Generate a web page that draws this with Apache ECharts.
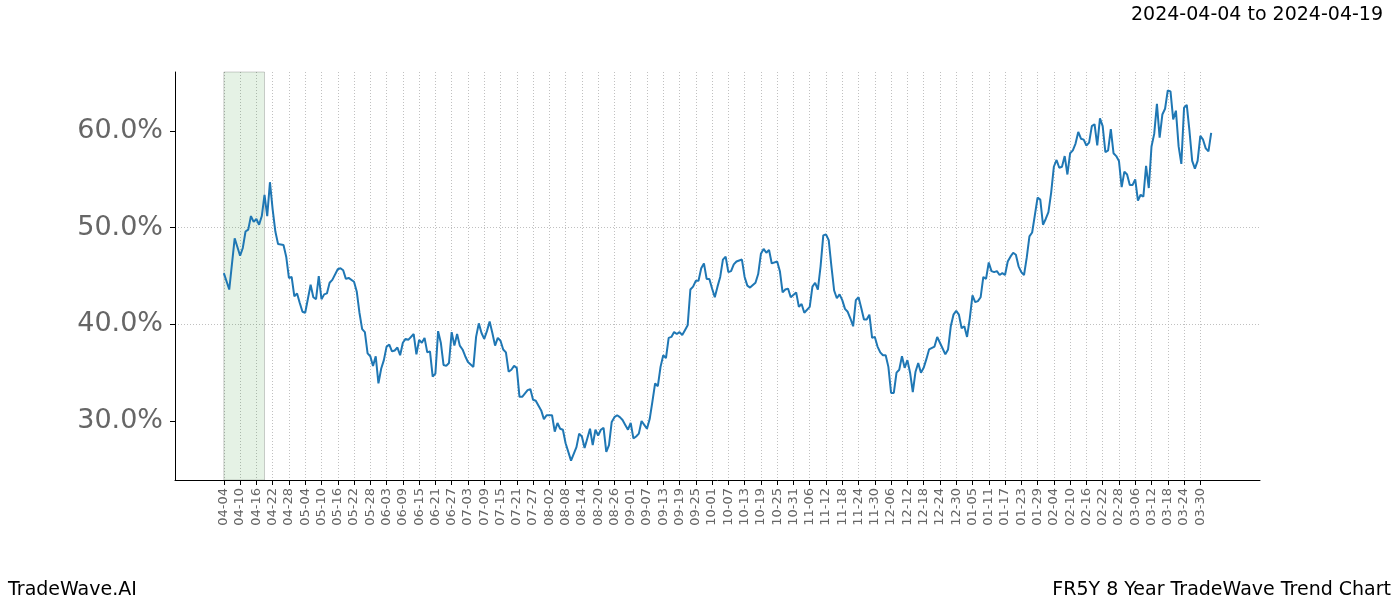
<!DOCTYPE html>
<html>
<head>
<meta charset="utf-8">
<script src="https://cdn.jsdelivr.net/npm/echarts@6/dist/echarts.min.js"></script>
<style>html,body{margin:0;padding:0;background:#fff}#c{width:1400px;height:600px}</style>
</head>
<body>
<div id="c"></div>
<script>
// Axis window: calendar days, offsets relative to 2024-04-04
const axisStart = '2024-03-17';   // offset -18
const axisDays = 401;             // through offset +382
const tickStep = 6;               // label every 6 days, offsets 0..360
const tickFirst = 0, tickLast = 360;
const highlightStart = 0, highlightEnd = 15;  // 2024-04-04 .. 2024-04-19
const yTicks = [30, 40, 50, 60];

// Series: day offset since 2024-04-04, value in %
const dayOffsets = [0,2,4,6,7,8,9,10,11,12,13,14,15,16,17,18,19,20,22,23,24,25,26,27,28,29,30,32,33,34,35,36,37,38,39,40,42,43,44,45,46,48,49,50,51,52,53,54,55,56,57,58,59,60,61,62,63,64,65,66,67,68,70,71,72,73,74,75,76,77,78,79,80,81,82,83,84,85,86,87,88,89,90,92,93,94,95,96,97,98,99,100,101,102,103,104,105,106,107,108,109,110,112,113,114,115,117,118,119,121,122,123,124,125,126,128,130,131,132,133,134,135,136,137,138,139,140,141,142,143,144,145,146,147,148,149,150,151,152,153,154,155,156,157,158,159,160,161,162,163,164,165,166,167,168,169,170,171,172,173,174,175,176,177,178,179,180,181,182,183,184,185,186,187,188,189,191,192,193,194,196,197,198,199,200,201,202,204,205,206,207,208,209,211,212,213,214,216,217,218,219,220,221,222,223,224,225,226,227,228,229,230,231,232,233,234,235,236,237,238,239,240,241,242,243,244,245,246,247,248,249,250,251,252,253,254,255,256,257,258,259,260,262,263,264,265,266,267,268,269,270,271,272,273,274,275,276,277,278,279,280,281,282,283,284,285,286,287,288,289,290,291,292,293,294,295,296,297,298,299,300,301,302,303,304,305,306,307,308,309,310,311,312,313,314,315,316,317,318,319,320,321,322,323,324,325,326,327,328,329,330,331,332,333,334,335,336,337,338,339,340,341,342,343,344,345,346,347,348,349,350,351,352,353,354,355,356,357,358,359,360,361,362,363,364];
const values = [45.3,43.6,48.9,47.1,47.9,49.6,49.8,51.2,50.6,50.9,50.3,51.2,53.4,51.2,54.7,51.9,49.6,48.3,48.2,47.0,44.8,44.9,42.9,43.2,42.2,41.3,41.2,44.1,42.8,42.6,45.0,42.6,43.1,43.2,44.3,44.6,45.7,45.8,45.6,44.7,44.8,44.4,43.4,41.2,39.5,39.2,37.0,36.7,35.7,36.7,33.9,35.4,36.3,37.7,37.9,37.2,37.3,37.6,36.8,38.1,38.5,38.4,39.0,36.9,38.4,38.1,38.6,37.1,37.2,34.6,34.9,39.3,38.1,35.8,35.7,36.0,39.2,37.8,39.0,37.8,37.4,36.7,36.1,35.6,38.7,40.1,39.1,38.5,39.3,40.3,39.1,37.8,38.6,38.3,37.4,37.1,35.1,35.3,35.7,35.5,32.5,32.5,33.2,33.3,32.2,32.1,31.1,30.2,30.6,30.6,28.9,29.8,29.2,29.1,27.7,25.9,27.3,28.7,28.4,27.2,28.2,29.2,27.5,29.1,28.5,29.1,29.3,26.8,27.5,29.9,30.4,30.6,30.4,30.1,29.6,29.1,29.8,28.2,28.4,28.7,30.0,29.6,29.2,30.2,32.0,33.9,33.6,35.6,36.8,36.5,38.6,38.7,39.2,39.0,39.2,38.9,39.4,39.9,43.6,43.9,44.5,44.5,45.8,46.3,44.7,44.7,43.7,42.8,43.9,44.9,46.7,47.0,45.4,45.5,46.2,46.5,46.7,44.9,44.0,43.8,44.3,45.2,47.3,47.8,47.4,47.7,46.3,46.5,45.5,43.3,43.6,43.7,42.8,43.3,41.8,42.1,41.2,41.8,43.9,44.3,43.6,46.0,49.2,49.3,48.7,46.0,43.5,42.7,43.1,42.5,41.6,41.3,40.6,39.8,42.5,42.8,41.7,40.5,40.5,41.0,38.6,38.7,37.7,37.1,36.8,36.8,35.6,32.9,32.9,35.0,35.3,36.7,35.5,36.3,35.0,33.0,35.1,36.0,35.0,35.5,36.4,37.4,37.7,38.7,38.1,37.5,36.9,37.4,39.8,41.0,41.4,41.0,39.6,39.8,38.7,40.6,43.0,42.3,42.4,42.8,44.9,44.7,46.4,45.5,45.4,45.5,45.1,45.3,45.1,46.5,47.0,47.4,47.2,46.0,45.4,45.1,46.9,49.1,49.5,51.3,53.1,52.9,50.3,50.9,51.6,53.6,56.3,57.0,56.2,56.3,57.4,55.5,57.7,58.0,58.7,59.9,59.2,59.1,58.5,58.8,60.5,60.7,58.5,61.3,60.5,57.8,58.0,60.2,57.7,57.4,56.9,54.2,55.8,55.5,54.4,54.4,55.0,52.8,53.4,53.2,56.4,54.1,58.4,59.7,62.8,59.3,61.7,62.3,64.2,64.1,61.2,62.1,58.4,56.6,62.4,62.7,60.0,56.9,56.1,56.9,59.5,59.1,58.2,57.9,59.8];

const titleText = '2024-04-04 to 2024-04-19';
const footerLeft = 'TradeWave.AI';
const footerRight = 'FR5Y 8 Year TradeWave Trend Chart';

// Build category list of calendar days
const startMs = Date.parse(axisStart + 'T00:00:00Z');
const lead = 18;
const categories = [];
for (let i = 0; i < axisDays; i++) {
  const dt = new Date(startMs + i * 86400000);
  categories.push(dt.toISOString().slice(0, 10));
}
const isTick = (idx) => {
  const d = idx - lead;
  return d >= tickFirst && d <= tickLast && d % tickStep === 0;
};
const seriesData = dayOffsets.map((d, i) => [d + lead, values[i]]);

const FONT = 'DejaVu Sans';
const chart = echarts.init(document.getElementById('c'), null, {renderer: 'canvas'});
chart.setOption({
  animation: false,
  backgroundColor: '#ffffff',
  title: [
    {text: titleText, right: 12, top: 1, textStyle: {fontFamily: FONT, fontSize: 19, fontWeight: 'normal', color: '#000'}},
    {text: footerLeft, left: 3, top: 576, textStyle: {fontFamily: FONT, fontSize: 19, fontWeight: 'normal', color: '#000'}},
    {text: footerRight, right: 4, top: 576, textStyle: {fontFamily: FONT, fontSize: 19, fontWeight: 'normal', color: '#000'}}
  ],
  grid: {left: 175, right: 140, top: 72, bottom: 120, containLabel: false},
  xAxis: {
    type: 'category',
    data: categories,
    boundaryGap: false,
    axisLine: {show: true, lineStyle: {color: '#000', width: 1}},
    axisTick: {show: true, interval: (i) => isTick(i), length: 5, lineStyle: {color: '#000'}},
    axisLabel: {
      interval: (i) => isTick(i), rotate: 90, margin: 8,
      fontFamily: FONT, fontSize: 13, color: '#666',
      formatter: (v) => v.slice(5)
    },
    splitLine: {show: true, interval: (i) => isTick(i), lineStyle: {color: '#b0b0b0', type: [1, 2], width: 0.8}}
  },
  yAxis: {
    type: 'value',
    min: 23.9, max: 66.1,
    axisLine: {show: true, lineStyle: {color: '#000', width: 1}},
    axisTick: {show: true, length: 5, lineStyle: {color: '#000'}, customValues: yTicks},
    axisLabel: {margin: 12, fontFamily: FONT, fontSize: 27, color: '#666', customValues: yTicks,
      formatter: (v) => v.toFixed(1) + '%'},
    splitLine: {show: true, showMinLine: false, showMaxLine: false, lineStyle: {color: '#b0b0b0', type: [1, 2], width: 0.8}}
  },
  series: [{
    type: 'line',
    data: seriesData,
    showSymbol: false,
    lineStyle: {color: '#1f77b4', width: 2},
    itemStyle: {color: '#1f77b4'},
    z: 5,
    markArea: {
      silent: true,
      itemStyle: {color: 'rgba(0,128,0,0.10)', borderColor: 'rgba(0,0,0,0.18)', borderWidth: 1},
      data: [[{xAxis: categories[lead + highlightStart]}, {xAxis: categories[lead + highlightEnd]}]]
    }
  }]
});
</script>
</body>
</html>
